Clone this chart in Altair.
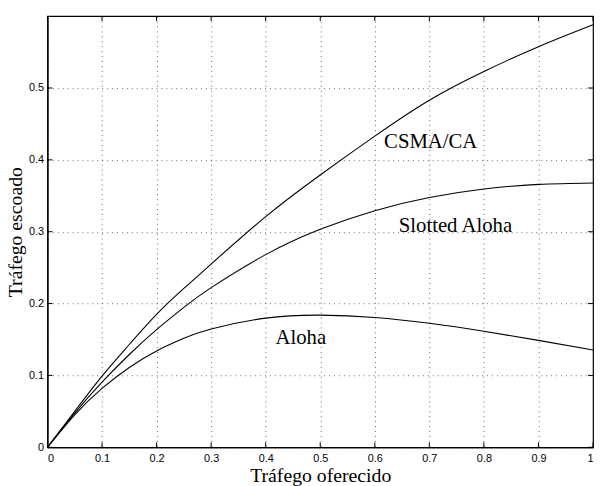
import altair as alt
import pandas as pd

# Offered traffic (x) and carried traffic (y)
G = [0.0, 0.05, 0.1, 0.15, 0.2, 0.25, 0.3, 0.4, 0.5, 0.6, 0.7, 0.8, 0.9, 1.0]
aloha = [0.0, 0.0452, 0.0819, 0.1111, 0.1341, 0.1516, 0.1646, 0.1797, 0.1839,
         0.1807, 0.1726, 0.1615, 0.1488, 0.1353]
slotted = [0.0, 0.0476, 0.0905, 0.1291, 0.1637, 0.1947, 0.2222, 0.2681, 0.3033,
           0.3293, 0.3476, 0.3595, 0.3659, 0.3679]
csma = [0.0, 0.0500, 0.0990, 0.1430, 0.1850, 0.2210, 0.2550, 0.3210, 0.3790,
        0.4330, 0.4830, 0.5230, 0.5575, 0.5880]

labels = ["CSMA/CA", "Slotted Aloha", "Aloha"]
label_x = [0.617, 0.644, 0.418]
label_y = [0.4166, 0.2999, 0.1442]

x_ticks = [0.0, 0.1, 0.2, 0.3, 0.4, 0.5, 0.6, 0.7, 0.8, 0.9, 1.0]
y_ticks = [0.0, 0.1, 0.2, 0.3, 0.4, 0.5]

W, H = 553, 437

rows = []
for name, ys in [("Aloha", aloha), ("Slotted Aloha", slotted), ("CSMA/CA", csma)]:
    for g, s in zip(G, ys):
        rows.append({"G": g, "S": s, "curve": name})
df = pd.DataFrame(rows)
ann = pd.DataFrame({"x": label_x, "y": label_y, "label": labels})
xt = pd.DataFrame({"v": x_ticks})
yt = pd.DataFrame({"v": y_ticks})

xscale = alt.Scale(domain=[0, 1], nice=False, zero=False)
yscale = alt.Scale(domain=[0, 0.6], nice=False, zero=False)

xaxis = alt.Axis(
    values=x_ticks,
    labelExpr="datum.value == 0 ? '0' : (datum.value == 1 ? '1' : format(datum.value, '.1f'))",
    title="Tráfego oferecido",
    titleBaseline="alphabetic", titleY=35, titleX=W / 2, titleAlign="center",
    labelPadding=5,
)
yaxis = alt.Axis(
    values=y_ticks,
    labelExpr="datum.value == 0 ? '0' : format(datum.value, '.1f')",
    title="Tráfego escoado",
    titleBaseline="alphabetic", titleX=-26, titleY=H / 2, titleAngle=270,
    titleAlign="center", labelPadding=4,
)

lines = alt.Chart(df).mark_line(color="black", strokeWidth=1.1, interpolate="natural").encode(
    x=alt.X("G:Q", scale=xscale, axis=xaxis),
    y=alt.Y("S:Q", scale=yscale, axis=yaxis),
    detail="curve:N",
)

text = alt.Chart(ann).mark_text(
    align="left", baseline="alphabetic", font="Liberation Serif", fontSize=21, color="black"
).encode(
    x=alt.X("x:Q", scale=xscale),
    y=alt.Y("y:Q", scale=yscale),
    text="label:N",
)

tb = alt.Chart(xt).mark_rule(color="black", strokeWidth=1).encode(
    x=alt.X("v:Q", scale=xscale), y=alt.value(H), y2=alt.value(H - 5))
tt = alt.Chart(xt).mark_rule(color="black", strokeWidth=1).encode(
    x=alt.X("v:Q", scale=xscale), y=alt.value(0), y2=alt.value(5))
tl = alt.Chart(yt).mark_rule(color="black", strokeWidth=1).encode(
    y=alt.Y("v:Q", scale=yscale), x=alt.value(0), x2=alt.value(5))
tr = alt.Chart(yt).mark_rule(color="black", strokeWidth=1).encode(
    y=alt.Y("v:Q", scale=yscale), x=alt.value(W - 5), x2=alt.value(W))

chart = alt.layer(lines, text, tb, tt, tl, tr).properties(
    width=W, height=H,
    autosize=alt.AutoSizeParams(type="none"),
    padding={"left": 40, "top": 5, "right": 1, "bottom": 36},
    background="white",
).configure_view(
    stroke="black", strokeWidth=1.2
).configure_axis(
    grid=True, gridDash=[1, 4], gridColor="black", gridOpacity=0.6, gridWidth=1,
    ticks=False, domain=True, domainColor="black", domainWidth=1.2,
    labelFont="Liberation Sans", labelFontSize=11, labelColor="black",
    titleFont="Liberation Serif", titleFontSize=20, titleFontWeight="normal",
    titleColor="black",
)

chart.save("out.html", embed_options={"renderer": "svg", "actions": False})
